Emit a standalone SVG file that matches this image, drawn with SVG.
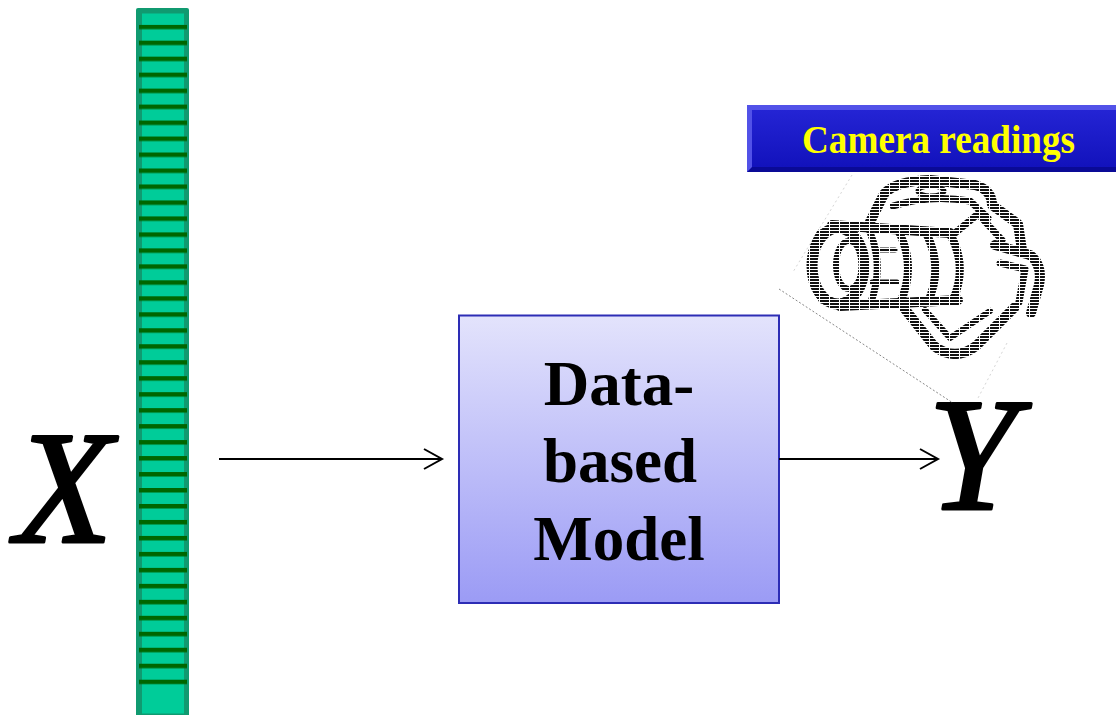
<svg xmlns="http://www.w3.org/2000/svg" width="1116" height="715" viewBox="0 0 1116 715">
  <defs>
    <style>
      .serif { font-family: "Liberation Serif", "Times New Roman", serif; }
      .var { font-size: 160px; font-style: italic; fill: #000; stroke: #000; stroke-width: 3; stroke-linejoin: round; }
      .model-text { font-size: 63px; font-weight: bold; fill: #000; text-anchor: middle; }
      .banner-text { font-size: 39px; font-weight: bold; fill: #ffff00; }
      .conn { stroke: #000; stroke-width: 2; fill: none; }
      .sketch { fill: none; stroke: url(#hatch); stroke-linecap: round; stroke-linejoin: round; }
    </style>
    <linearGradient id="modelFill" x1="0" y1="0" x2="0" y2="1">
      <stop offset="0" stop-color="#e3e3fc"/>
      <stop offset="1" stop-color="#9b9bf5"/>
    </linearGradient>
    <linearGradient id="bannerFill" x1="0" y1="0" x2="0" y2="1">
      <stop offset="0" stop-color="#2424d4"/>
      <stop offset="1" stop-color="#1212bc"/>
    </linearGradient>
    <!-- dark stripes across the input vector -->
    <pattern id="stripes" patternUnits="userSpaceOnUse" x="0" y="24.7" width="60" height="15.976">
      <rect x="0" y="0" width="60" height="4.5" fill="#006600"/>
    </pattern>
    <!-- horizontal line hatch used for the camera sketch -->
    <pattern id="hatch" patternUnits="userSpaceOnUse" width="10" height="3">
      <rect x="0" y="0" width="9" height="2" fill="#111"/>
    </pattern>
    <marker id="openArrow" markerUnits="userSpaceOnUse" markerWidth="22" markerHeight="24" refX="19" refY="11" orient="auto">
      <path d="M1,1 L19,11 L1,21" fill="none" stroke="#000" stroke-width="2"/>
    </marker>
  </defs>

  <rect width="1116" height="715" fill="#ffffff"/>

  <!-- input feature vector -->
  <g id="input-vector">
    <rect x="136" y="8" width="53" height="712" rx="2" fill="#109a70"/>
    <rect x="142" y="13.5" width="42" height="700" fill="#00cc99"/>
    <rect x="139" y="24.7" width="48" height="660" fill="url(#stripes)"/>
  </g>

  <g id="label-x">
    <text class="serif var" x="15" y="542">X</text>
  </g>

  <!-- model block -->
  <g id="model">
    <rect x="459" y="315.5" width="320" height="287.5" fill="url(#modelFill)" stroke="#2d2db5" stroke-width="2"/>
    <text class="serif model-text" x="619" y="405">Data-</text>
    <text class="serif model-text" x="620" y="482">based</text>
    <text class="serif model-text" x="619" y="560">Model</text>
  </g>

  <g id="label-y">
    <text class="serif var" x="928" y="509">Y</text>
  </g>

  <!-- title bar over the camera -->
  <g id="camera-banner">
    <rect x="747" y="105" width="372" height="67" fill="#0a0a96"/>
    <polygon points="747,105 1116,105 1116,110 752,110 752,167 747,172" fill="#5252e8"/>
    <rect x="752" y="110" width="364" height="57" fill="url(#bannerFill)"/>
    <text class="serif banner-text" x="802" y="153" textLength="273" lengthAdjust="spacingAndGlyphs">Camera readings</text>
  </g>

  <!-- hatched camera sketch -->
  <g id="camera">
    <path d="M852,175 L793,272" stroke="#bbb" stroke-width="1" stroke-dasharray="2 3" opacity="0.6"/>
    <path d="M779,289 L953,403" stroke="#888" stroke-width="1" stroke-dasharray="2 2"/>
    <path d="M1007,343 L977,400" stroke="#bbb" stroke-width="1" stroke-dasharray="2 3" opacity="0.6"/>
    <!-- lens -->
    <ellipse class="sketch" cx="838" cy="266" rx="26" ry="38" stroke-width="11"/>
    <ellipse class="sketch" cx="849" cy="265" rx="13" ry="24" stroke-width="6"/>
    <path class="sketch" d="M832,225 L950,233" stroke-width="10"/>
    <path class="sketch" d="M840,306 L958,300" stroke-width="10"/>
    <path class="sketch" d="M820,233 Q800,266 822,300" stroke-width="7"/>
    <path class="sketch" d="M870,232 Q884,266 871,302" stroke-width="7"/>
    <path class="sketch" d="M898,230 Q917,266 900,303" stroke-width="8"/>
    <path class="sketch" d="M925,231 Q944,266 928,302" stroke-width="8"/>
    <path class="sketch" d="M950,234 Q968,266 953,300" stroke-width="8"/>
    <path class="sketch" d="M875,250 L895,250 M872,282 L897,282" stroke-width="5"/>
    <!-- body and prism -->
    <path class="sketch" d="M870,222 L884,194 Q895,181 930,180 L975,185 Q992,190 992,205 L1018,224 L1022,250" stroke-width="10"/>
    <path class="sketch" d="M893,206 Q930,194 970,201 L988,218" stroke-width="7"/>
    <ellipse class="sketch" cx="931" cy="191" rx="13" ry="5" stroke-width="5"/>
    <path class="sketch" d="M955,233 L978,214 L1002,240" stroke-width="7"/>
    <!-- grip -->
    <path class="sketch" d="M995,245 L1030,255 Q1043,265 1039,285 L1031,313" stroke-width="10"/>
    <path class="sketch" d="M1000,263 L1025,269 L1019,302" stroke-width="7"/>
    <!-- base -->
    <path class="sketch" d="M904,308 L934,346 Q955,362 976,346 L1015,307" stroke-width="10"/>
    <path class="sketch" d="M925,310 L950,338 L990,311" stroke-width="6"/>
  </g>

  <!-- connectors -->
  <g id="connectors">
    <line class="conn" x1="219" y1="459" x2="442" y2="459" marker-end="url(#openArrow)"/>
    <line class="conn" x1="779" y1="459" x2="938" y2="459" marker-end="url(#openArrow)"/>
  </g>
</svg>
